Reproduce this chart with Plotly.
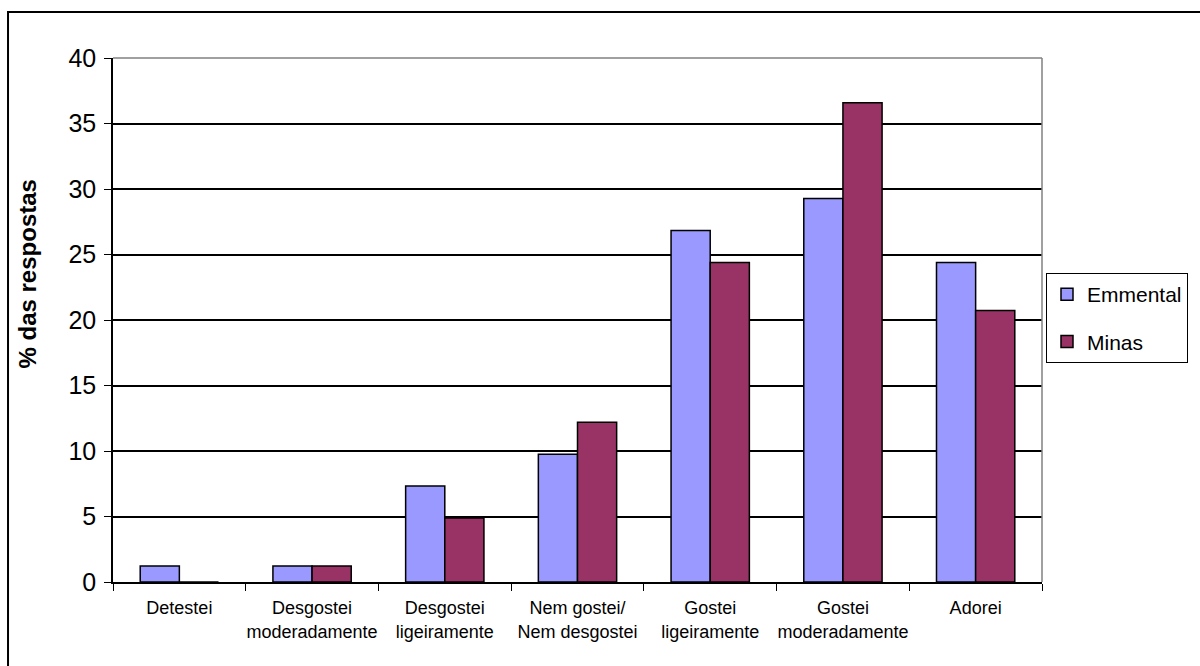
import plotly.graph_objects as go

categories = ["Detestei", "Desgostei<br>moderadamente", "Desgostei<br>ligeiramente",
              "Nem gostei/<br>Nem desgostei", "Gostei<br>ligeiramente",
              "Gostei<br>moderadamente", "Adorei"]
emmental = [1.22, 1.22, 7.32, 9.76, 26.83, 29.27, 24.39]
minas = [0, 1.22, 4.88, 12.20, 24.39, 36.59, 20.73]
y_ticks = [0, 5, 10, 15, 20, 25, 30, 35, 40]

FONT = "Liberation Sans, Arial, sans-serif"

fig = go.Figure()
fig.add_trace(go.Bar(x=categories, y=emmental, name="Emmental", legendgroup="a",
                     marker=dict(color="#9999FF", line=dict(color="black", width=1.5))))
fig.add_trace(go.Bar(x=categories, y=minas, name="Minas", legendgroup="b",
                     marker=dict(color="#993366", line=dict(color="black", width=1.5))))

fig.update_layout(
    width=1200, height=666,
    margin=dict(l=113, r=158, t=58, b=84),
    paper_bgcolor="white", plot_bgcolor="white",
    font=dict(family=FONT, color="black"),
    barmode="group", bargap=0.41, bargroupgap=0,
    legend=dict(x=(1046 - 113) / 929, y=0.5897, xanchor="left", yanchor="top",
                bordercolor="black", borderwidth=1, bgcolor="white",
                font=dict(size=21, family=FONT), traceorder="grouped",
                tracegroupgap=17),
    xaxis=dict(showline=True, linecolor="black", linewidth=1.5,
               ticks="outside", ticklen=7, tickcolor="black", tickwidth=1,
               tickson="boundaries", tickfont=dict(size=18, family=FONT),
               ticklabelstandoff=9,
               tickangle=0, automargin=False, showgrid=False),
    yaxis=dict(range=[0, 40], tickvals=y_ticks, showline=True, linecolor="black",
               linewidth=1.5, ticks="outside", ticklen=7, tickcolor="black",
               tickwidth=1, tickfont=dict(size=25, family=FONT),
               ticklabelstandoff=3, automargin=False,
               showgrid=True, gridcolor="black", gridwidth=1.5, zeroline=False),
    shapes=[
        dict(type="rect", xref="paper", yref="paper", x0=-0.1130, x1=1.3,
             y0=-0.3, y1=1.0878, line=dict(color="black", width=2), layer="below"),
        dict(type="line", xref="paper", yref="paper", x0=0, x1=1, y0=1, y1=1,
             line=dict(color="#808080", width=1.5), layer="above"),
        dict(type="line", xref="paper", yref="paper", x0=1, x1=1, y0=0, y1=1,
             line=dict(color="#808080", width=1.5), layer="above"),
    ],
    annotations=[
        dict(text="<b>% das respostas</b>", xref="paper", yref="paper",
             x=(26.5 - 113) / 929, y=(582 - 274) / 524, textangle=-90,
             showarrow=False, xanchor="center", yanchor="middle",
             font=dict(size=24, family=FONT, color="black")),
    ],
)

fig.write_html("out.html")
